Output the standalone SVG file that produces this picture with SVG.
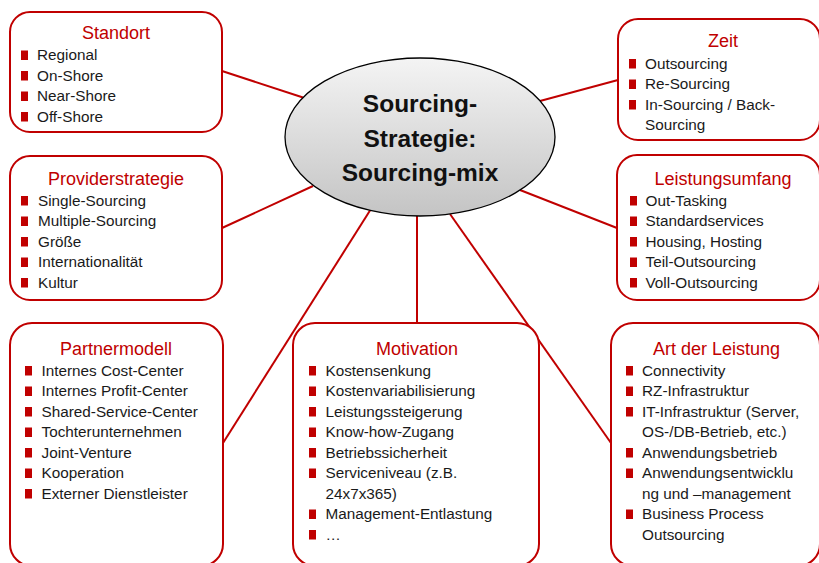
<svg xmlns="http://www.w3.org/2000/svg" width="819" height="563" viewBox="0 0 819 563">
  <defs>
    <linearGradient id="hubFill" x1="0" y1="0" x2="0" y2="1">
      <stop offset="0" stop-color="#f4f4f4"/>
      <stop offset="1" stop-color="#c4c4c4"/>
    </linearGradient>
    <rect id="bullet" width="7" height="9.5" fill="#c00000"/>
  </defs>
  <style>
    .box { fill: #ffffff; stroke: #c00000; stroke-width: 2; }
    .title { font-family: "Liberation Sans", Arial, sans-serif; font-size: 18px; fill: #c00000; text-anchor: middle; }
    .item { font-family: "Liberation Sans", Arial, sans-serif; font-size: 15.3px; fill: #1a1a1a; }
    .hub { font-family: "Liberation Sans", Arial, sans-serif; font-size: 24.5px; font-weight: bold; fill: #111111; text-anchor: middle; }
    .link { stroke: #c00000; stroke-width: 2; fill: none; }
  </style>
  <rect width="819" height="563" fill="#ffffff"/>

  <!-- connectors from the central ellipse to each category -->
  <g id="connectors">
    <line class="link" x1="303" y1="97.5" x2="222" y2="71"/>
    <line class="link" x1="313" y1="186" x2="222" y2="228"/>
    <line class="link" x1="370" y1="210.5" x2="223" y2="443"/>
    <line class="link" x1="417" y1="216" x2="417" y2="323"/>
    <line class="link" x1="450" y1="214" x2="611" y2="443"/>
    <line class="link" x1="520" y1="190" x2="617" y2="228"/>
    <line class="link" x1="540" y1="101" x2="618" y2="80"/>
  </g>

  <g id="hub">
    <ellipse cx="420" cy="137" rx="135" ry="79" fill="url(#hubFill)" stroke="#000000" stroke-width="1.3"/>
    <text class="hub" x="420" y="112">Sourcing-</text>
    <text class="hub" x="420" y="146.5">Strategie:</text>
    <text class="hub" x="420" y="181">Sourcing-mix</text>
  </g>

  <g id="standort">
    <rect class="box" x="10" y="12" width="212" height="120" rx="20"/>
    <text class="title" x="116" y="39">Standort</text>
    <use href="#bullet" x="21" y="50.5"/><text class="item" x="37" y="60">Regional</text>
    <use href="#bullet" x="21" y="71"/><text class="item" x="37" y="80.5">On-Shore</text>
    <use href="#bullet" x="21" y="91.5"/><text class="item" x="37" y="101">Near-Shore</text>
    <use href="#bullet" x="21" y="112"/><text class="item" x="37" y="121.5">Off-Shore</text>
  </g>

  <g id="providerstrategie">
    <rect class="box" x="10" y="156" width="212" height="144" rx="20"/>
    <text class="title" x="116" y="184.5">Providerstrategie</text>
    <use href="#bullet" x="21" y="196"/><text class="item" x="38" y="205.5">Single-Sourcing</text>
    <use href="#bullet" x="21" y="216.5"/><text class="item" x="38" y="226">Multiple-Sourcing</text>
    <use href="#bullet" x="21" y="237"/><text class="item" x="38" y="246.5">Größe</text>
    <use href="#bullet" x="21" y="257.5"/><text class="item" x="38" y="267">Internationalität</text>
    <use href="#bullet" x="21" y="278"/><text class="item" x="38" y="287.5">Kultur</text>
  </g>

  <g id="partnermodell">
    <rect class="box" x="10" y="323" width="213" height="243" rx="22"/>
    <text class="title" x="116" y="355">Partnermodell</text>
    <use href="#bullet" x="25" y="366"/><text class="item" x="41.5" y="375.5">Internes Cost-Center</text>
    <use href="#bullet" x="25" y="386.5"/><text class="item" x="41.5" y="396">Internes Profit-Center</text>
    <use href="#bullet" x="25" y="407"/><text class="item" x="41.5" y="416.5">Shared-Service-Center</text>
    <use href="#bullet" x="25" y="427.5"/><text class="item" x="41.5" y="437">Tochterunternehmen</text>
    <use href="#bullet" x="25" y="448"/><text class="item" x="41.5" y="457.5">Joint-Venture</text>
    <use href="#bullet" x="25" y="468.5"/><text class="item" x="41.5" y="478">Kooperation</text>
    <use href="#bullet" x="25" y="489"/><text class="item" x="41.5" y="498.5">Externer Dienstleister</text>
  </g>

  <g id="motivation">
    <rect class="box" x="293" y="323" width="246" height="243" rx="22"/>
    <text class="title" x="417" y="355">Motivation</text>
    <use href="#bullet" x="309" y="366"/><text class="item" x="325.5" y="375.5">Kostensenkung</text>
    <use href="#bullet" x="309" y="386.5"/><text class="item" x="325.5" y="396">Kostenvariabilisierung</text>
    <use href="#bullet" x="309" y="407"/><text class="item" x="325.5" y="416.5">Leistungssteigerung</text>
    <use href="#bullet" x="309" y="427.5"/><text class="item" x="325.5" y="437">Know-how-Zugang</text>
    <use href="#bullet" x="309" y="448"/><text class="item" x="325.5" y="457.5">Betriebssicherheit</text>
    <use href="#bullet" x="309" y="468.5"/><text class="item" x="325.5" y="478">Serviceniveau (z.B.</text>
    <text class="item" x="325.5" y="498.5">24x7x365)</text>
    <use href="#bullet" x="309" y="509.5"/><text class="item" x="325.5" y="519">Management-Entlastung</text>
    <use href="#bullet" x="309" y="530"/><text class="item" x="325.5" y="539.5">…</text>
  </g>

  <g id="zeit">
    <rect class="box" x="618" y="19" width="202" height="121" rx="20"/>
    <text class="title" x="723" y="46.5">Zeit</text>
    <use href="#bullet" x="629" y="59"/><text class="item" x="645" y="68.5">Outsourcing</text>
    <use href="#bullet" x="629" y="79.5"/><text class="item" x="645" y="89">Re-Sourcing</text>
    <use href="#bullet" x="629" y="100"/><text class="item" x="645" y="109.5">In-Sourcing / Back-</text>
    <text class="item" x="645" y="130">Sourcing</text>
  </g>

  <g id="leistungsumfang">
    <rect class="box" x="617" y="155" width="203" height="145" rx="20"/>
    <text class="title" x="723" y="185">Leistungsumfang</text>
    <use href="#bullet" x="630" y="196"/><text class="item" x="645.5" y="205.5">Out-Tasking</text>
    <use href="#bullet" x="630" y="216.5"/><text class="item" x="645.5" y="226">Standardservices</text>
    <use href="#bullet" x="630" y="237"/><text class="item" x="645.5" y="246.5">Housing, Hosting</text>
    <use href="#bullet" x="630" y="257.5"/><text class="item" x="645.5" y="267">Teil-Outsourcing</text>
    <use href="#bullet" x="630" y="278"/><text class="item" x="645.5" y="287.5">Voll-Outsourcing</text>
  </g>

  <g id="art-der-leistung">
    <rect class="box" x="611" y="323" width="209" height="243" rx="22"/>
    <text class="title" x="716.5" y="355">Art der Leistung</text>
    <use href="#bullet" x="626" y="366"/><text class="item" x="642" y="375.5">Connectivity</text>
    <use href="#bullet" x="626" y="386.5"/><text class="item" x="642" y="396">RZ-Infrastruktur</text>
    <use href="#bullet" x="626" y="407"/><text class="item" x="642" y="416.5">IT-Infrastruktur (Server,</text>
    <text class="item" x="642" y="437">OS-/DB-Betrieb, etc.)</text>
    <use href="#bullet" x="626" y="448"/><text class="item" x="642" y="457.5">Anwendungsbetrieb</text>
    <use href="#bullet" x="626" y="468.5"/><text class="item" x="642" y="478">Anwendungsentwicklu</text>
    <text class="item" x="642" y="498.5">ng und –management</text>
    <use href="#bullet" x="626" y="509.5"/><text class="item" x="642" y="519">Business Process</text>
    <text class="item" x="642" y="539.5">Outsourcing</text>
  </g>
</svg>
